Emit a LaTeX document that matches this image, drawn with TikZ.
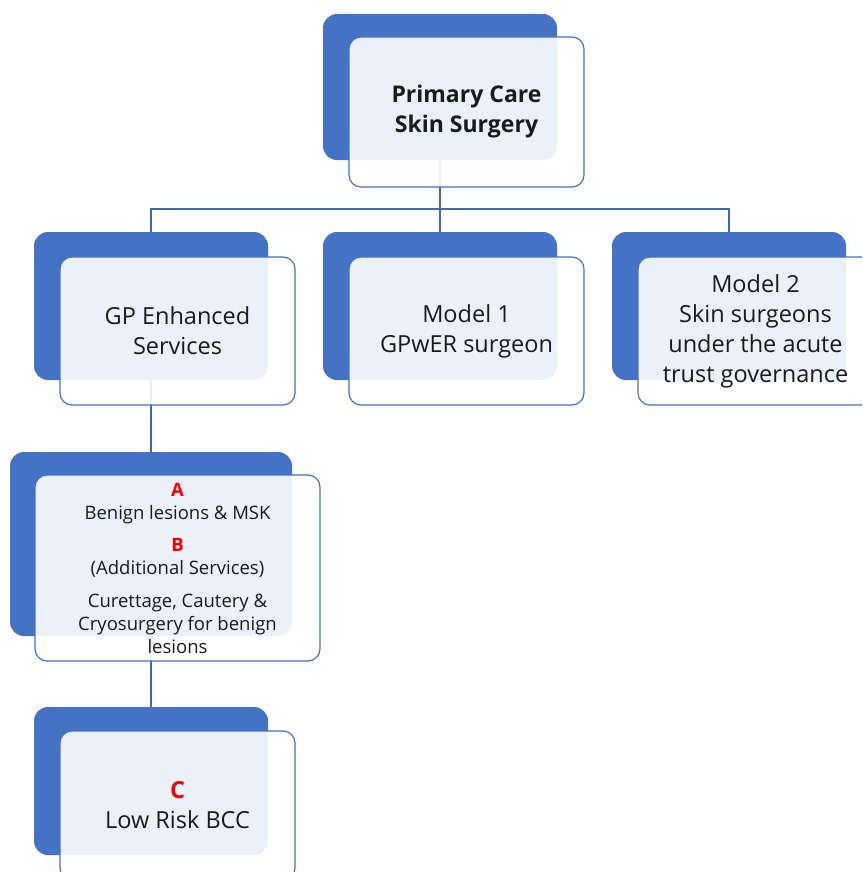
\documentclass[tikz,border=0pt]{standalone}
\usepackage{fontspec}
\setmainfont{Open Sans}
\definecolor{boxblue}{HTML}{4472C4}
\definecolor{linkblue}{HTML}{3F67AD}
\definecolor{txt}{HTML}{1A1A1A}
\definecolor{lettred}{HTML}{FF0000}
\begin{document}
\begin{tikzpicture}[x=1pt,y=-1pt,
  backbox/.style={fill=boxblue, draw=none, rounded corners=14pt, inner sep=0pt},
  frontbox/.style={fill=white, fill opacity=0.9, text opacity=1, draw=boxblue, line width=1.2pt,
    rounded corners=12pt, inner sep=0pt, align=center, text=txt},
  link/.style={draw=linkblue, line width=1.5pt},
  big/.style={font=\fontsize{23.5}{30}\selectfont},
  small/.style={font=\fontsize{18.5}{23}\selectfont},
  letter/.style={text=lettred, font=\bfseries}
]
\useasboundingbox (0,0) rectangle (862,872);
\clip (0,0) rectangle (862,872);
% back (blue) boxes
\node[backbox, minimum width=234pt, minimum height=146pt] (topb) at (440,87) {};
\node[backbox, minimum width=234pt, minimum height=148pt] (gpb) at (151,306) {};
\node[backbox, minimum width=234pt, minimum height=148pt] (m1b) at (440,306) {};
\node[backbox, minimum width=234pt, minimum height=148pt] (m2b) at (729,306) {};
\node[backbox, minimum width=282pt, minimum height=184pt] (abb) at (151,544) {};
\node[backbox, minimum width=234pt, minimum height=148pt] (cb) at (151,781) {};
% connectors
\coordinate (bus) at (440,209);
\draw[link] (topb.south) -- (m1b.north);
\draw[link] (gpb.north) |- (bus) -| (m2b.north);
\draw[link] (gpb.south) -- (abb.north);
\draw[link] (abb.south) -- (cb.north);
% front boxes
\node[frontbox, minimum width=235pt, minimum height=150pt,
  font=\fontsize{23}{30}\selectfont\bfseries] (topw) at (466.5,112) {Primary Care\\Skin Surgery};
\node[frontbox, minimum width=235pt, minimum height=148pt, big] (gpw) at (177.5,331) {GP Enhanced\\Services};
\node[frontbox, minimum width=235pt, minimum height=148pt, big] (m1w) at (466.5,331) {Model 1\\GPwER surgeon};
\node[frontbox, minimum width=235pt, minimum height=148pt, big] (m2w) at (755.5,331) {Model 2\\Skin surgeons\\under the acute\\trust governance};
\node[frontbox, minimum width=285pt, minimum height=186pt, small] (abw) at (177.5,568)
  {{\color{lettred}\bfseries A}\\Benign lesions \& MSK\\[9pt]{\color{lettred}\bfseries B}\\(Additional Services)\\[10pt]Curettage, Cautery \&\\Cryosurgery for benign\\lesions};
\node[frontbox, minimum width=235pt, minimum height=149pt, big] (cw) at (177.5,805.5)
  {{\color{lettred}\bfseries C}\\Low Risk BCC};
\end{tikzpicture}
\end{document}
